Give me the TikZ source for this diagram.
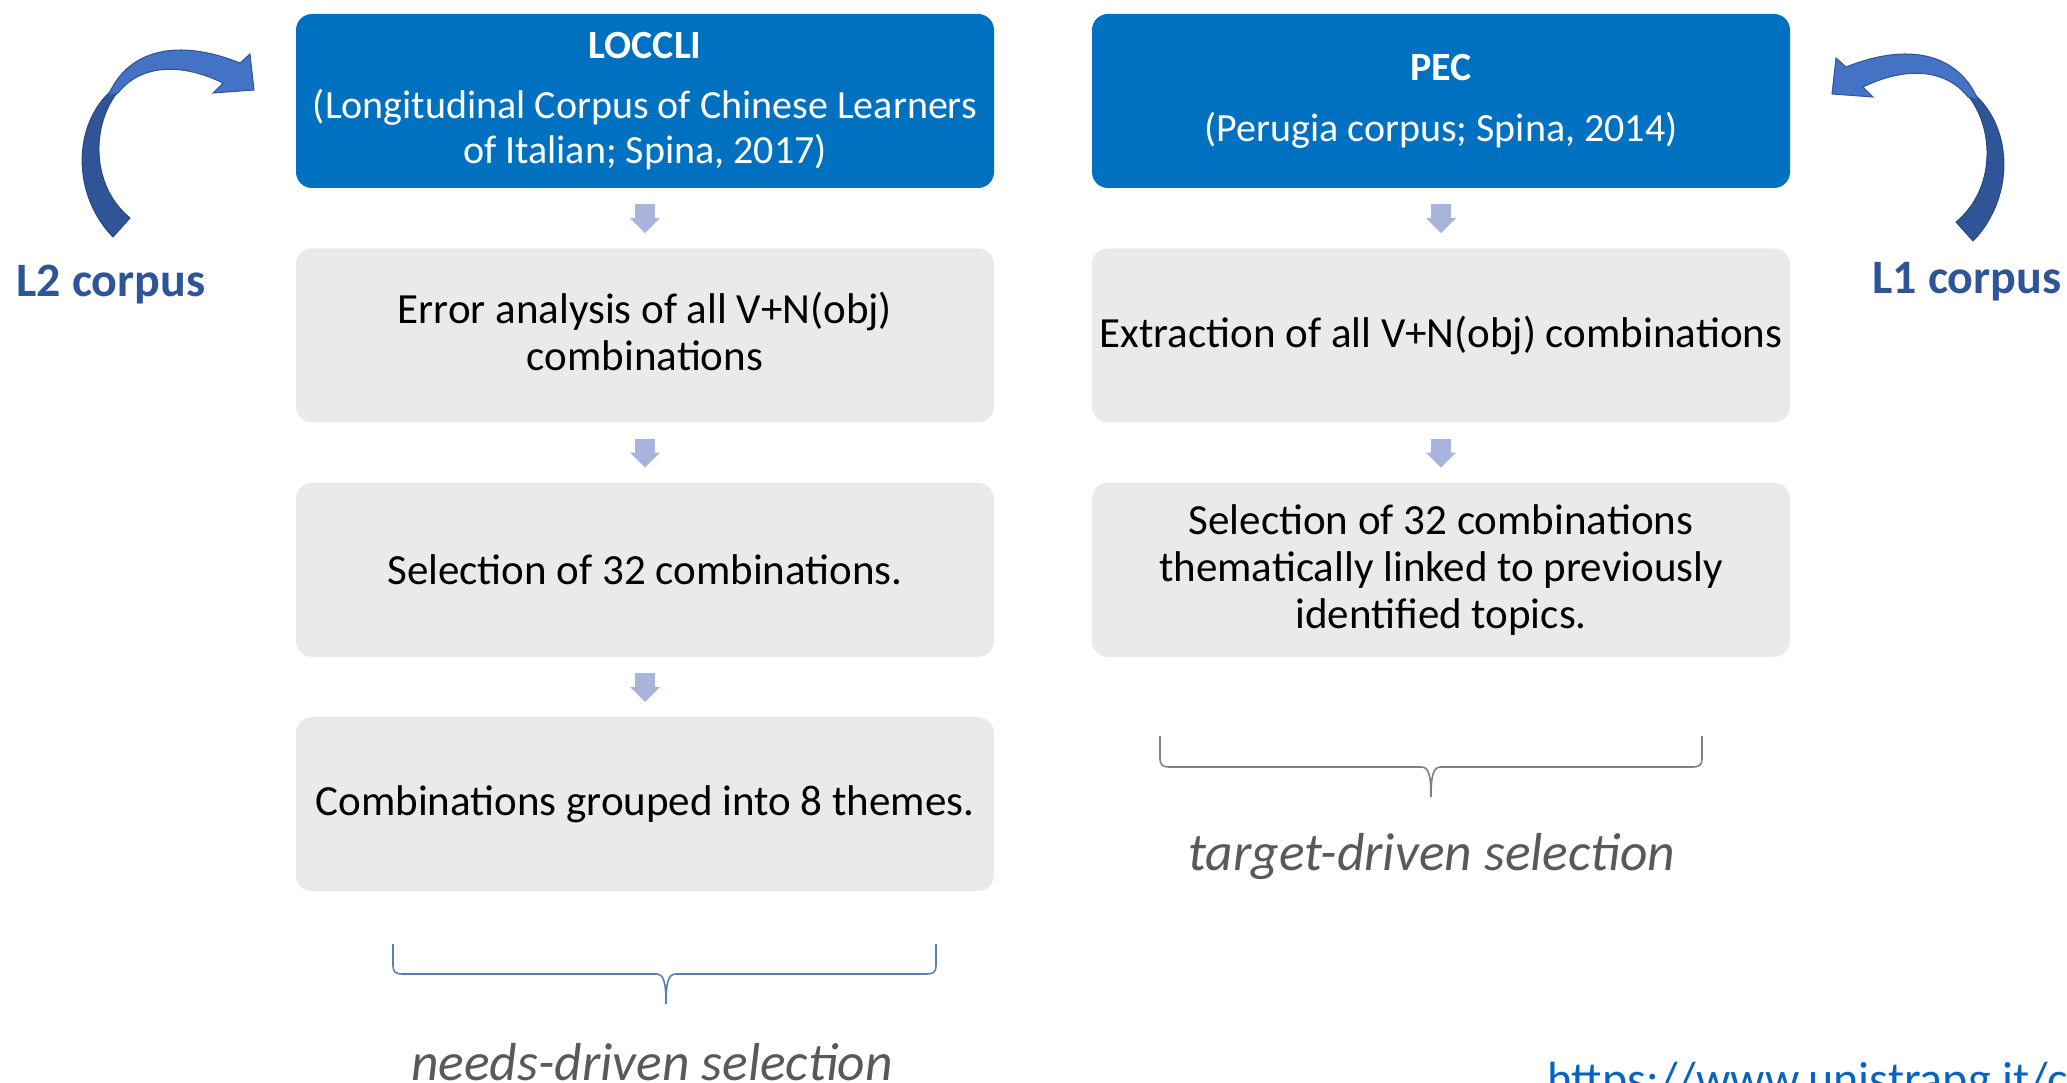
\documentclass[tikz,border=0pt]{standalone}
\usepackage{fontspec}
\setmainfont{Carlito}
\definecolor{ppblue}{HTML}{0070C0}
\definecolor{ppgray}{HTML}{EAEAEA}
\definecolor{ppstep}{HTML}{A9B4DC}
\definecolor{ppdark}{HTML}{2F5597}
\definecolor{pplight}{HTML}{4472C4}
\definecolor{pptext}{HTML}{595959}
\definecolor{pplink}{HTML}{0563C1}
\definecolor{ppbrace}{HTML}{5B7DB5}
\newcommand\boxfont{\fontsize{43}{47}\selectfont}
\newcommand\headfont{\fontsize{40}{45}\selectfont}
\usetikzlibrary{arrows.meta,positioning,calc}

\begin{document}
\begin{tikzpicture}[x=1pt, y=-1pt,
  head/.style={fill=ppblue, rounded corners=16pt, text=white, font=\headfont,
    minimum width=698pt, minimum height=174pt, inner sep=0pt, align=center},
  stepbox/.style={fill=ppgray, rounded corners=16pt, text=black, font=\boxfont,
    minimum width=698pt, minimum height=174pt, inner sep=0pt, align=center},
  flow/.style={draw=ppstep, line width=20pt, shorten <=16pt, shorten >=15pt,
    -{Triangle[length=15pt 0 0, width=30pt 0 0, line width=0pt 0 0]}},
  corpus/.style={font=\fontsize{48}{52}\selectfont\bfseries, text=ppdark, inner sep=0pt},
  sel/.style={font=\fontsize{53.5}{58}\selectfont\itshape, text=pptext, inner sep=0pt},
  selbrace/.style={draw=#1, line width=1.6pt},
  corpusarc/.pic={
    \fill[ppdark, draw=ppdark!85!black, line width=1pt]
      (113,237) .. controls (72,195) and (72,125) .. (112,90) -- (117,93)
      .. controls (92,125) and (90,185) .. (130,218) -- cycle;
    \fill[pplight, draw=ppdark, line width=1pt]
      (108,96) .. controls (125,55) and (170,35) .. (240,63) -- (250,54)
      -- (254,90) -- (213,93) -- (223,83)
      .. controls (180,62) and (140,65) .. (118,93) -- cycle;
  },
  node distance=60pt
]
  \useasboundingbox (0,0) rectangle (2067,1083);

  % Left column: L2 corpus
  \node[head] (loccli) at (645,101)
    {\bfseries LOCCLI\\[15pt](Longitudinal Corpus of Chinese Learners\\of Italian; Spina, 2017)};
  \node[stepbox, below=of loccli] (errana)
    {Error analysis of all V+N(obj)\\combinations\rule[-9pt]{0pt}{9pt}};
  \node[stepbox, below=of errana] (sel32l) {Selection of 32 combinations.};
  \node[stepbox, below=of sel32l] (themes) {Combinations grouped into 8 themes.};

  % Right column: L1 corpus
  \node[head] (pec) at (1441,101)
    {\bfseries PEC\\[16pt](Perugia corpus; Spina, 2014)};
  \node[stepbox, below=of pec] (extract)
    {Extraction of all V+N(obj) combinations};
  \node[stepbox, below=of extract] (sel32r)
    {Selection of 32 combinations\\thematically linked to previously\\identified topics.};

  % Arrows
  \draw[flow] (loccli) -- (errana);
  \draw[flow] (errana) -- (sel32l);
  \draw[flow] (sel32l) -- (themes);
  \draw[flow] (pec) -- (extract);
  \draw[flow] (extract) -- (sel32r);

  % Corpus labels
  \pic at (0,0) {corpusarc};
  \pic[xscale=-1] at (2086,4) {corpusarc};
  \node[corpus] (l2) at (111,285) {L2 corpus};
  \node[corpus] (l1) at (1967,282) {L1 corpus};

  % Braces
  \draw[selbrace=ppbrace] (393,944) -- (393,966) .. controls (393,972) and (396,974) .. (402,974)
    -- (656,974) .. controls (663,974) and (666,980) .. (666,1004)
    .. controls (666,980) and (669,974) .. (676,974) -- (927,974)
    .. controls (933,974) and (936,972) .. (936,966) -- (936,944);
  \draw[selbrace=gray] (1160,736) -- (1160,759) .. controls (1160,765) and (1163,767) .. (1169,767)
    -- (1421,767) .. controls (1428,767) and (1431,773) .. (1431,797)
    .. controls (1431,773) and (1434,767) .. (1441,767) -- (1693,767)
    .. controls (1699,767) and (1702,765) .. (1702,759) -- (1702,736);
  \node[sel, anchor=base] (needs) at (652,1080) {needs-driven selection};
  \node[sel, anchor=base] (target) at (1432,870) {target-driven selection};

  % Link
  \node[anchor=base west, font=\fontsize{48}{52}\selectfont, text=pplink, inner sep=0pt]
    (url) at (1547,1095) {https://www.unistrapg.it/c};
\end{tikzpicture}
\end{document}
